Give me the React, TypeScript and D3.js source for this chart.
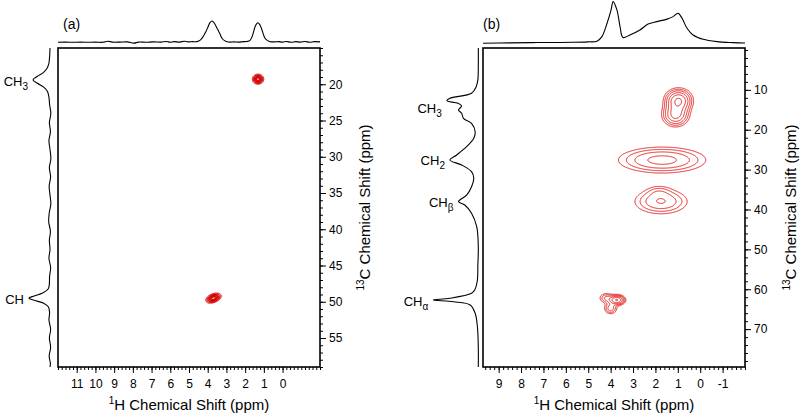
import React, { useEffect, useRef } from 'react';
import * as d3 from 'd3';

const FONT = 'Liberation Sans, Arial, Helvetica, sans-serif';

// ---------- panel (a) ----------
// 1H projection on top (ppm, intensity a.u.)
const topA_ppm = [12, 11.6, 11.2, 10.8, 10.4, 10.0, 9.6, 9.33, 9.1, 8.7, 8.3, 7.95, 7.7, 7.3, 6.9, 6.5, 6.2, 6.0, 5.8, 5.5, 5.25, 5.05, 4.8, 4.57, 4.4, 4.25, 4.1, 3.98, 3.88, 3.77, 3.65, 3.5, 3.35, 3.24, 3.1, 2.97, 2.8, 2.6, 2.35, 2.1, 1.9, 1.75, 1.63, 1.47, 1.38, 1.31, 1.2, 1.1, 0.94, 0.8, 0.67, 0.45, 0.2, 0.0, -0.2, -0.45, -0.7, -0.95, -1.2, -1.45, -1.7, -2];
const topA_int = [0, 1, 0, 1, 0, 1, 0, 5, 1, 1, 2, -4, 1, 0, 2, 1, 4, 0, 3, 1, 5, 2, 3, 3, 10, 26, 50, 73, 92, 100, 90, 66, 40, 19, 8, 3, 1, 2, 1, 3, 4, 8, 26, 73, 88, 92, 80, 58, 19, 8, 3, 2, 3, 1, 4, 0, 3, 1, 4, 0, 3, 2];
// 13C projection on the left
const leftA_ppm = [15, 15.8, 16.6, 17.2, 17.8, 18.4, 18.9, 19.4, 19.9, 20.4, 21.0, 21.8, 22.8, 24, 25.3, 26.5, 27.8, 29, 30.3, 31.5, 32.8, 34, 35.3, 36.5, 37.8, 39, 40.3, 41.5, 42.8, 44, 45.3, 46.5, 47.5, 48.2, 48.8, 49.2, 49.5, 49.8, 50.2, 50.7, 51.5, 52.5, 53.8, 55, 56.3, 57.5, 58.5, 59];
const leftA_int = [0, 1, 3, 6, 14, 32, 60, 81, 58, 30, 12, 5, 2, -4, 3, -2, 5, 0, -4, 3, -3, 4, 0, -4, 4, 6, -2, 3, 0, 5, -3, 2, 3, 8, 35, 75, 100, 75, 30, 8, 2, 5, -3, 3, -3, 4, -2, 0];
// cross peaks
const peakA_h = [1.31, 3.69];
const peakA_c = [19.3, 49.5];
const peakA_sh = [0.135, 0.185];
const peakA_sc = [0.31, 0.31];
const peakA_amp = [1, 1];
const peakA_rho = [0, 0.4];
const levelsA = [0.08, 0.16, 0.24, 0.32, 0.4, 0.48, 0.56, 0.64, 0.72, 0.8, 0.88];
const labelA_main = ['CH', 'CH'];
const labelA_sub = ['3', ''];
const labelA_ppm = [19.6, 49.7];
const labelA_int = [81, 100];
const xTicksA = [11, 10, 9, 8, 7, 6, 5, 4, 3, 2, 1, 0];
const yTicksA = [20, 25, 30, 35, 40, 45, 50, 55];

// ---------- panel (b) ----------
const topB_ppm = [9.7, 8.5, 7.47, 6.5, 5.68, 5.0, 4.61, 4.39, 4.16, 3.98, 3.89, 3.72, 3.58, 3.45, 3.14, 2.69, 2.33, 1.93, 1.48, 1.21, 0.99, 0.81, 0.59, 0.32, -0.13, -0.75, -1.47, -2];
const topB_int = [0, 1, 1.7, 2, 2.4, 3.5, 5, 16, 48, 80, 100, 80, 40, 14, 20, 32, 46, 52, 58, 64, 72, 60, 36, 20, 9.6, 4, 1.7, 0.7];
const leftB_ppm = [-0.5, 4, 7.5, 9.3, 10.86, 12.1, 12.72, 13.37, 14.05, 15.05, 15.88, 17.13, 18.38, 20.49, 22.15, 24.25, 26.33, 27.59, 28.84, 30.52, 32.18, 34.28, 36.37, 37.62, 38.05, 38.87, 40.95, 44.32, 49.33, 54, 57.68, 60.2, 61.02, 62.27, 62.7, 63.12, 63.95, 66.03, 69.39, 74.4, 79.5];
const leftB_int = [0, 0, 1, 5, 15, 63, 70, 45, 37, 44, 37, 33, 15, 7, 10, 26, 48, 63, 37, 15, 10, 15, 26, 41, 44, 30, 15, 3.5, 0, 1, 2, 8, 15, 63, 100, 55, 18, 7, 2, 0, 0];
const peakB_h = [0.97, 1.1, 1.7, 1.75, 1.85, 3.72, 4.2, 4.0];
const peakB_c = [12.7, 16.3, 27.6, 38.0, 35.4, 62.7, 62.2, 64.8];
const peakB_sh = [0.33, 0.33, 1.15, 0.72, 0.35, 0.2, 0.2, 0.18];
const peakB_sc = [1.6, 1.6, 1.92, 1.9, 1.0, 0.7, 0.8, 0.9];
const peakB_amp = [0.78, 0.585, 0.42, 0.37, 0.1, 0.75, 0.25, 0.3];
const peakB_rho = [0, 0, 0, 0, 0, 0, 0, 0];
const levelsB = [0.1, 0.16, 0.24, 0.36, 0.52, 0.75];
const labelB_main = ['CH', 'CH', 'CH', 'CH'];
const labelB_sub = ['3', '2', 'β', 'α'];
const labelB_ppm = [14.7, 27.7, 38.25, 63.1];
const labelB_int = [70, 63, 44, 100];
const xTicksB = [9, 8, 7, 6, 5, 4, 3, 2, 1, 0, -1];
const yTicksB = [10, 20, 30, 40, 50, 60, 70];

const zipPts = (a, b) => a.map((v, i) => [v, b[i]]);
const zipPeaks = (h, c, sh, sc, amp, rho) =>
  h.map((v, i) => ({ h: v, c: c[i], sh: sh[i], sc: sc[i], amp: amp[i], rho: rho[i] }));

function drawPanel(svg, p) {
  const { x0, x1, y0, y1 } = p.box;
  const x = d3.scaleLinear().domain(p.xDomain).range([x0, x1]);
  const y = d3.scaleLinear().domain(p.yDomain).range([y0, y1]);

  // contour map built from the peak list
  const k = 2;
  const nx = Math.round((x1 - x0) * k), ny = Math.round((y1 - y0) * k);
  const values = new Float64Array(nx * ny);
  for (let j = 0; j < ny; j++) {
    const c = y.invert(y0 + (j + 0.5) / k);
    for (let i = 0; i < nx; i++) {
      const h = x.invert(x0 + (i + 0.5) / k);
      let v = 0;
      for (const pk of p.peaks) {
        const u = (h - pk.h) / pk.sh, w = (c - pk.c) / pk.sc;
        const q = (u * u - 2 * pk.rho * u * w + w * w) / (2 * (1 - pk.rho * pk.rho));
        if (q < 20) v += pk.amp * Math.exp(-q);
      }
      values[j * nx + i] = v;
    }
  }
  const contours = d3.contours().size([nx, ny]).thresholds(p.levels)(values);
  const proj = d3.geoTransform({
    point(px, py) { this.stream.point(x0 + px / k, y0 + py / k); }
  });
  svg.append('g').selectAll('path').data(contours).join('path')
    .attr('d', d3.geoPath(proj))
    .attr('fill', 'none')
    .attr('stroke', p.color)
    .attr('stroke-width', 1);

  // frame
  svg.append('rect')
    .attr('x', x0).attr('y', y0)
    .attr('width', x1 - x0).attr('height', y1 - y0)
    .attr('fill', 'none').attr('stroke', 'black').attr('stroke-width', 1.6);

  // axes
  const styleAxis = g => {
    g.select('.domain').remove();
    g.attr('font-family', FONT).attr('font-size', 12);
    g.selectAll('.tick line').attr('stroke', 'black');
    g.selectAll('.tick text').attr('fill', 'black');
  };
  svg.append('g').attr('transform', `translate(0,${y1})`)
    .call(d3.axisBottom(x).tickValues(p.xMinor).tickSize(3).tickFormat(() => ''))
    .call(styleAxis);
  svg.append('g').attr('transform', `translate(0,${y1})`)
    .call(d3.axisBottom(x).tickValues(p.xTicks).tickSize(6).tickPadding(6).tickFormat(d => String(d)))
    .call(styleAxis);
  svg.append('g').attr('transform', `translate(${x1},0)`)
    .call(d3.axisRight(y).tickValues(p.yMinor).tickSize(3).tickFormat(() => ''))
    .call(styleAxis);
  svg.append('g').attr('transform', `translate(${x1},0)`)
    .call(d3.axisRight(y).tickValues(p.yTicks).tickSize(6).tickPadding(3).tickFormat(d => String(d)))
    .call(styleAxis);

  // projections
  const ti = d3.scaleLinear().domain([0, 100]).range(p.topRange);
  const li = d3.scaleLinear().domain([0, 100]).range(p.leftRange);
  svg.append('path')
    .datum(p.top)
    .attr('d', d3.line().x(d => x(d[0])).y(d => ti(d[1])).curve(d3.curveCatmullRom))
    .attr('fill', 'none').attr('stroke', 'black').attr('stroke-width', 1.1);
  svg.append('path')
    .datum(p.left)
    .attr('d', d3.line().x(d => li(d[1])).y(d => y(d[0])).curve(d3.curveCatmullRom))
    .attr('fill', 'none').attr('stroke', 'black').attr('stroke-width', 1.1);

  // peak labels
  p.labels.forEach(l => {
    const t = svg.append('text')
      .attr('x', li(l.int) - 5)
      .attr('y', y(l.ppm) + 4.5)
      .attr('text-anchor', 'end')
      .attr('font-family', FONT).attr('font-size', 13);
    t.append('tspan').text(l.main);
    if (l.sub) t.append('tspan').attr('dy', 4).attr('font-size', 10).text(l.sub);
  });

  // panel letter
  svg.append('text').attr('x', p.letterX).attr('y', 29)
    .attr('font-family', FONT).attr('font-size', 14).text(p.letter);

  // axis titles
  const xt = svg.append('text').attr('x', (x0 + x1) / 2).attr('y', 410)
    .attr('text-anchor', 'middle').attr('font-family', FONT).attr('font-size', 15);
  xt.append('tspan').attr('font-size', 10).attr('dy', -6).text('1');
  xt.append('tspan').attr('dy', 6).text('H Chemical Shift (ppm)');
  const yt = svg.append('text')
    .attr('transform', `translate(${p.yTitleX},${(y0 + y1) / 2}) rotate(-90)`)
    .attr('text-anchor', 'middle').attr('font-family', FONT).attr('font-size', 15);
  yt.append('tspan').attr('font-size', 10).attr('dy', -6).text('13');
  yt.append('tspan').attr('dy', 6).text('C Chemical Shift (ppm)');
}

const App = () => {
  const ref = useRef(null);

  useEffect(() => {
    const svg = d3.select(ref.current);
    svg.selectAll('*').remove();

    drawPanel(svg, {
      box: { x0: 58, x1: 320, y0: 48, y1: 367 },
      xDomain: [12, -2], yDomain: [15, 59],
      xTicks: xTicksA, xMinor: d3.range(-2, 12.01, 0.2).map(v => +v.toFixed(1)),
      yTicks: yTicksA, yMinor: d3.range(15, 59.01, 1),
      top: zipPts(topA_ppm, topA_int), topRange: [42.3, 21],
      left: zipPts(leftA_ppm, leftA_int), leftRange: [50, 29],
      peaks: zipPeaks(peakA_h, peakA_c, peakA_sh, peakA_sc, peakA_amp, peakA_rho),
      levels: levelsA, color: '#d40000',
      labels: labelA_main.map((m, i) => ({ main: m, sub: labelA_sub[i], ppm: labelA_ppm[i], int: labelA_int[i] })),
      letter: '(a)', letterX: 63, yTitleX: 370
    });

    drawPanel(svg, {
      box: { x0: 483, x1: 745, y0: 48, y1: 367 },
      xDomain: [9.7, -2], yDomain: [-0.5, 79.5],
      xTicks: xTicksB, xMinor: d3.range(-2, 9.61, 0.2).map(v => +v.toFixed(1)),
      yTicks: yTicksB, yMinor: d3.range(0, 79.01, 2),
      top: zipPts(topB_ppm, topB_int), topRange: [43.3, 1.6],
      left: zipPts(leftB_ppm, leftB_int), leftRange: [478.3, 433.3],
      peaks: zipPeaks(peakB_h, peakB_c, peakB_sh, peakB_sc, peakB_amp, peakB_rho),
      levels: levelsB, color: '#e2201c',
      labels: labelB_main.map((m, i) => ({ main: m, sub: labelB_sub[i], ppm: labelB_ppm[i], int: labelB_int[i] })),
      letter: '(b)', letterX: 483, yTitleX: 796
    });
  }, []);

  return (
    <svg
      ref={ref}
      width={800}
      height={416}
      style={{ position: 'absolute', left: 0, top: 0, background: 'white' }}
    />
  );
};

export default App;
